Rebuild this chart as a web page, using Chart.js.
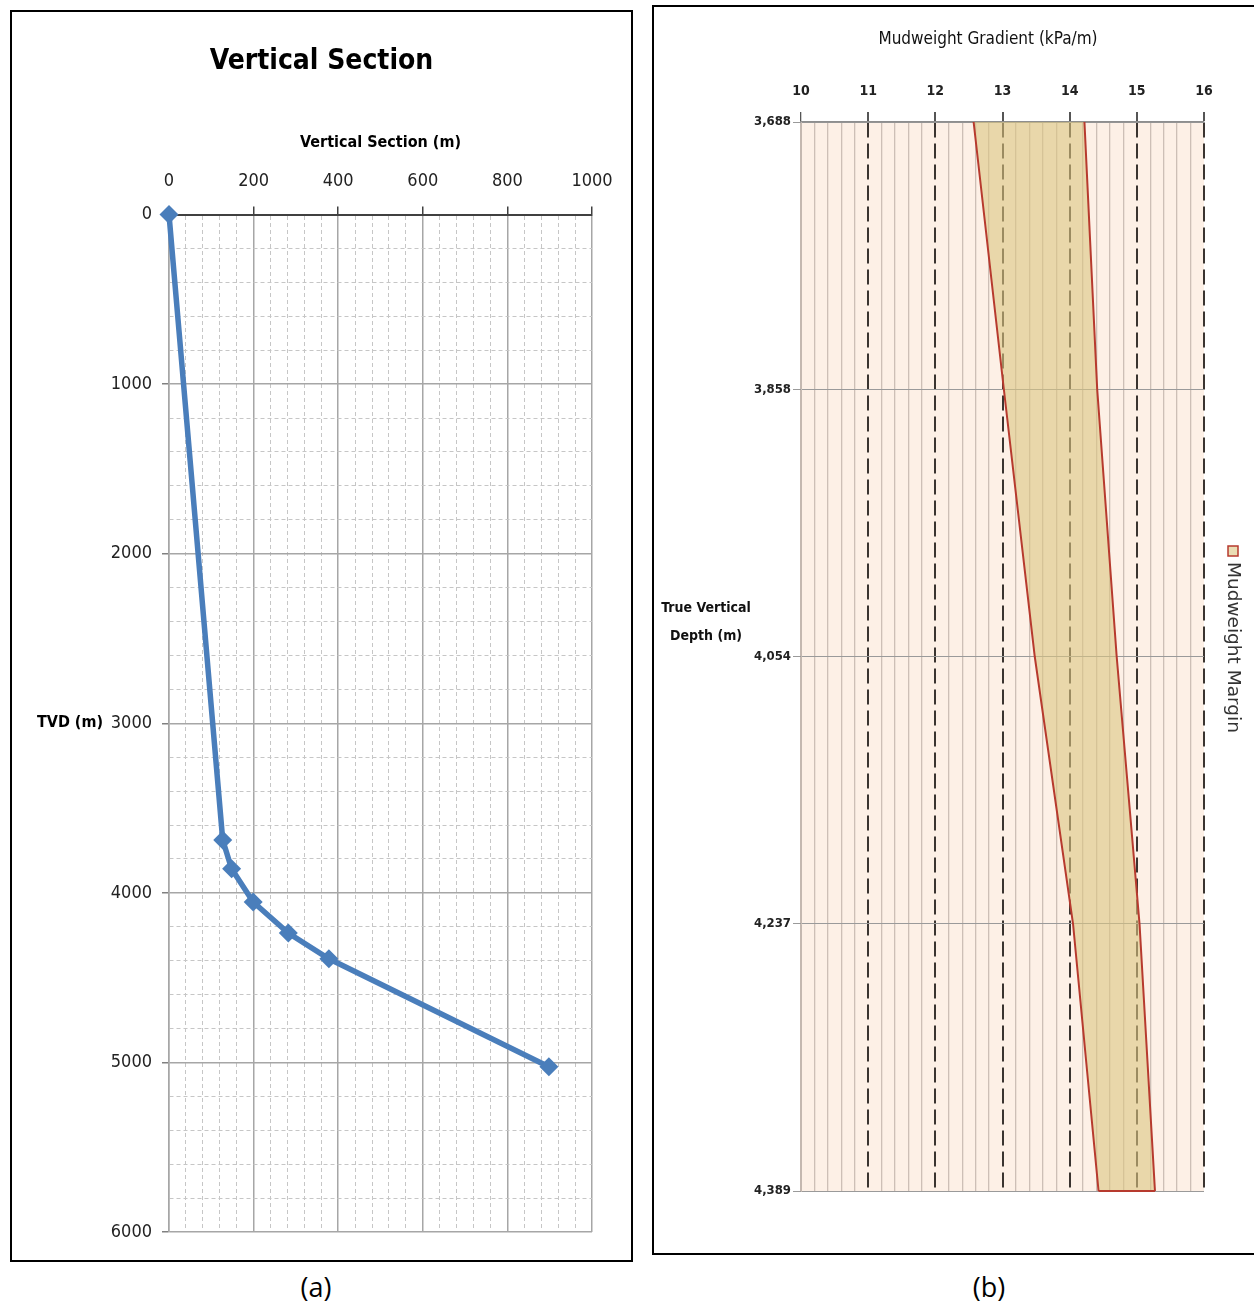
<!DOCTYPE html>
<html><head><meta charset="utf-8">
<script src="https://cdn.jsdelivr.net/npm/chart.js@4/dist/chart.umd.min.js"></script>
<style>
html,body{margin:0;padding:0;background:#fff;width:1254px;height:1306px;overflow:hidden;}
.box{position:absolute;box-sizing:border-box;border:2px solid #000;background:#fff;}
#boxA{left:10px;top:10px;width:623px;height:1252px;}
#boxB{left:652px;top:5px;width:606px;height:1250px;}
.cap{position:absolute;top:1271px;line-height:32px;font-size:27px;font-family:'Open Sans','Liberation Sans',sans-serif;color:#000;transform:translateX(-50%);}
canvas{position:absolute;left:0;top:0;}
</style></head><body>
<div class="box" id="boxA"><canvas id="cA" width="619" height="1248" style="width:619px;height:1248px"></canvas></div>
<div class="box" id="boxB"><canvas id="cB" width="602" height="1246" style="width:602px;height:1246px"></canvas></div>
<div class="cap" style="left:316px">(a)</div>
<div class="cap" style="left:989px">(b)</div>
<script>
// ---- data: (a) Vertical Section ----
const vsSection = [0, 127, 148, 199, 282, 378, 898];          // Vertical Section (m)
const vsTVD     = [0, 3688, 3858, 4054, 4237, 4389, 5025];    // TVD (m)
// ---- data: (b) Mudweight margin ----
const depthLabels = ['3,688', '3,858', '4,054', '4,237', '4,389'];
const mwLower = [12.57, 13.02, 13.48, 14.05, 14.43];
const mwUpper = [14.22, 14.41, 14.70, 15.04, 15.27];

const NARROW = "'Liberation Sans Narrow','DejaVu Sans Condensed','Liberation Sans',sans-serif";
const isInt = v => Math.abs(v - Math.round(v)) < 1e-6;
const BAND = 'rgba(220,198,130,0.6)';

// ---------------- Chart (a) ----------------
const tvdLabel = {
  id: 'tvdLabel',
  afterDraw(chart) {
    const ctx = chart.ctx, y = chart.scales.y.getPixelForValue(3000);
    ctx.save();
    ctx.font = "bold 16px " + NARROW;
    ctx.fillStyle = '#000';
    ctx.textAlign = 'right';
    ctx.textBaseline = 'middle';
    ctx.fillText('TVD (m)', 91, y);
    ctx.restore();
  }
};
new Chart(document.getElementById('cA'), {
  type: 'scatter',
  data: { datasets: [{
    label: 'Vertical Section',
    data: vsSection.map((x, i) => ({ x: x, y: vsTVD[i] })),
    showLine: true, clip: false,
    borderColor: '#4A7EBB', backgroundColor: '#4A7EBB', borderWidth: 5.5,
    pointStyle: 'rectRot', pointRadius: 9.5, pointBorderWidth: 0,
    pointBackgroundColor: '#4A7EBB'
  }]},
  options: {
    responsive: false, animation: false,
    layout: { padding: { left: 0, right: 0, top: 0, bottom: 28 } },
    plugins: {
      legend: { display: false }, tooltip: { enabled: false },
      title: { display: true, text: 'Vertical Section', color: '#000',
        font: { family: NARROW, size: 28, weight: 'bold' }, padding: { top: 33, bottom: 24 } }
    },
    scales: {
      x: {
        type: 'linear', position: 'top', min: 0, max: 1000,
        afterFit(s) { s.height = 112; },
        ticks: { stepSize: 40, autoSkip: false, maxRotation: 0, minRotation: 0, padding: 14,
          color: '#222', font: { family: NARROW, size: 18 },
          callback: v => (v % 200 === 0 ? String(v) : '') },
        grid: {
          color: c => (c.tick && c.tick.value % 200 === 0) ? '#A6A6A6' : '#C6C6C6',
          lineWidth: c => (c.tick && c.tick.value % 200 === 0) ? 1.5 : 1,
          tickLength: 8,
          tickColor: c => (c.tick && c.tick.value % 200 === 0) ? '#404040' : 'rgba(0,0,0,0)'
        },
        border: { display: true, color: '#404040', width: 2,
          dash: c => (c.tick && c.tick.value % 200 !== 0) ? [4, 3] : [] },
        title: { display: true, text: 'Vertical Section (m)', color: '#000',
          font: { family: NARROW, size: 16, weight: 'bold' }, padding: { top: 31, bottom: 0 } }
      },
      y: {
        type: 'linear', reverse: true, min: 0, max: 6000,
        afterFit(s) { s.width = 157; },
        ticks: { stepSize: 200, autoSkip: false, padding: 10,
          color: '#222', font: { family: NARROW, size: 18 },
          callback: v => (v % 1000 === 0 ? String(v) : '') },
        grid: {
          color: c => (c.tick && c.tick.value % 1000 === 0) ? '#A6A6A6' : '#C6C6C6',
          lineWidth: c => (c.tick && c.tick.value % 1000 === 0) ? 1.5 : 1,
          tickLength: 7,
          tickColor: c => (c.tick && c.tick.value % 1000 === 0) ? '#808080' : 'rgba(0,0,0,0)'
        },
        border: { display: true, color: '#A6A6A6', width: 1.5,
          dash: c => (c.tick && c.tick.value % 1000 !== 0) ? [4, 3] : [] }
      },
      yRightSpace: {
        type: 'linear', position: 'right', display: true,
        afterFit(s) { s.width = 39; },
        ticks: { display: false }, grid: { display: false }, border: { display: false }
      }
    }
  },
  plugins: [tvdLabel]
});

// ---------------- Chart (b) ----------------
const plotBg = {
  id: 'plotBg',
  beforeDraw(chart) {
    const a = chart.chartArea, ctx = chart.ctx;
    ctx.save();
    ctx.fillStyle = '#FDF0E6';
    ctx.fillRect(a.left, a.top, a.right - a.left, a.bottom - a.top);
    ctx.restore();
  }
};
const sideTexts = {
  id: 'sideTexts',
  afterDraw(chart) {
    const ctx = chart.ctx;
    ctx.save();
    // x-axis title
    ctx.font = "17px " + NARROW;
    ctx.fillStyle = '#111';
    ctx.textAlign = 'center';
    ctx.textBaseline = 'middle';
    ctx.fillText('Mudweight Gradient (kPa/m)', 334, 33);
    // y-axis title
    ctx.font = "bold 14px " + NARROW;
    ctx.fillText('True Vertical', 52, 601);
    ctx.fillText('Depth (m)', 52, 629);
    // rotated legend
    const sx = 574, sy = 539;
    ctx.fillStyle = BAND;
    ctx.fillRect(sx, sy, 10, 10);
    ctx.strokeStyle = '#B73A2E';
    ctx.lineWidth = 1.5;
    ctx.strokeRect(sx, sy, 10, 10);
    ctx.translate(579, 555);
    ctx.rotate(Math.PI / 2);
    ctx.font = "18.5px 'DejaVu Sans', sans-serif";
    ctx.fillStyle = '#333';
    ctx.textAlign = 'left';
    ctx.textBaseline = 'middle';
    ctx.fillText('Mudweight Margin', 0, 0);
    ctx.restore();
  }
};
new Chart(document.getElementById('cB'), {
  type: 'line',
  data: {
    labels: depthLabels,
    datasets: [
      { label: 'Mudweight Margin (low)', data: mwLower, borderColor: '#B73A2E', borderWidth: 2,
        pointRadius: 0, fill: false, tension: 0 },
      { label: 'Mudweight Margin', data: mwUpper, borderColor: '#B73A2E', borderWidth: 2,
        pointRadius: 0, fill: '-1', backgroundColor: BAND, tension: 0 },
      { label: 'Mudweight Margin (base)', order: -1,
        data: [{ x: mwLower[mwLower.length - 1], y: depthLabels[depthLabels.length - 1] },
               { x: mwUpper[mwUpper.length - 1], y: depthLabels[depthLabels.length - 1] }],
        borderColor: '#B73A2E', borderWidth: 2, pointRadius: 0, fill: false }
    ]
  },
  options: {
    indexAxis: 'y', responsive: false, animation: false,
    layout: { padding: { left: 0, right: 52, top: 0, bottom: 62 } },
    plugins: { legend: { display: false }, tooltip: { enabled: false } },
    scales: {
      x: {
        type: 'linear', position: 'top', min: 10, max: 16,
        afterFit(s) { s.height = 115; },
        ticks: { stepSize: 0.2, autoSkip: false, maxRotation: 0, minRotation: 0, padding: 12,
          color: '#222', font: { family: NARROW, size: 14, weight: 'bold' },
          callback: v => (isInt(v) ? String(Math.round(v)) : '') },
        grid: {
          color: c => {
            if (!c.tick) return '#CDBFB6';
            if (isInt(c.tick.value)) return Math.round(c.tick.value) === 10 ? '#C4B8B0' : '#3A3430';
            return '#CDBFB6';
          },
          lineWidth: c => (c.tick && isInt(c.tick.value) && Math.round(c.tick.value) !== 10) ? 2 : 1.3,
          tickLength: 10,
          tickColor: c => (c.tick && isInt(c.tick.value)) ? '#555' : 'rgba(0,0,0,0)'
        },
        border: { display: true, color: '#8E8E8E', width: 1.5,
          dash: c => (c.tick && isInt(c.tick.value) && Math.round(c.tick.value) !== 10) ? [15, 6] : [] }
      },
      y: {
        type: 'category', offset: false,
        afterFit(s) { s.width = 147; },
        ticks: { padding: 2, color: '#222', font: { family: NARROW, size: 13, weight: 'bold' } },
        grid: { color: '#9A9A9A', lineWidth: 1, tickLength: 8, tickColor: '#9A9A9A', offset: false },
        border: { display: true, color: '#C4B8B0', width: 1 }
      }
    }
  },
  plugins: [plotBg, sideTexts]
});
</script>
</body></html>
